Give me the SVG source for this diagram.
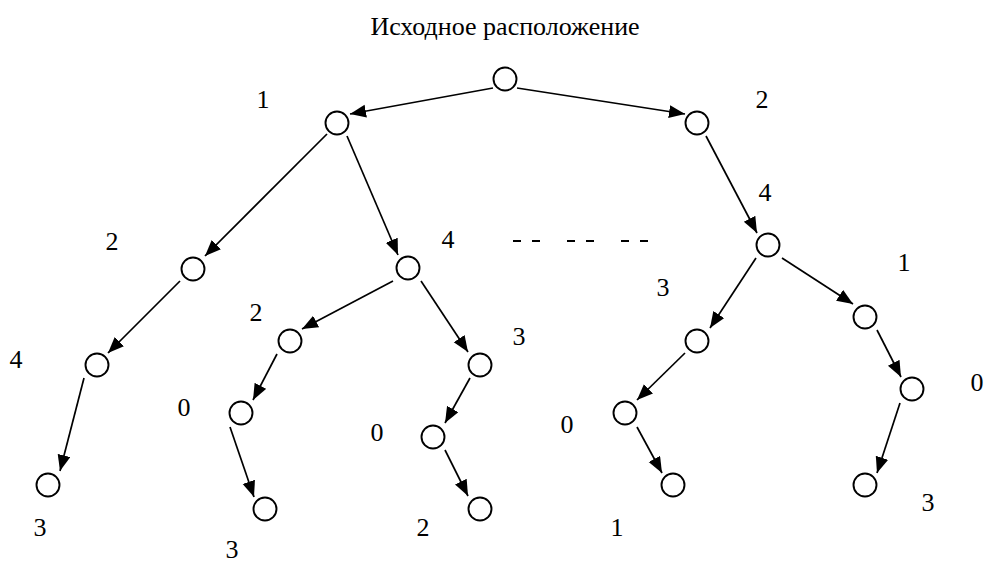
<svg xmlns="http://www.w3.org/2000/svg" width="985" height="563" viewBox="0 0 985 563">
<style>
.n{fill:#fff;stroke:#000;stroke-width:1.9}
.e{stroke:#000;stroke-width:1.7;fill:none}
text{font-family:'Liberation Serif','DejaVu Serif','Times New Roman',serif;font-size:26px;fill:#000;text-anchor:middle}
.d{stroke:#000;stroke-width:2}
</style>
<defs>
<marker id="ah" markerUnits="userSpaceOnUse" markerWidth="18" markerHeight="14" refX="16" refY="6.5" orient="auto">
<path d="M0,0 L16,6.5 L0,13 z" fill="#000"/>
</marker>
</defs>
<text x="505" y="35">Исходное расположение</text>
<g id="connectors">
<line class="e" x1="493" y1="88" x2="350" y2="114" marker-end="url(#ah)"/>
<line class="e" x1="517" y1="88" x2="685" y2="114" marker-end="url(#ah)"/>
<line class="e" x1="327" y1="134" x2="205" y2="256" marker-end="url(#ah)"/>
<line class="e" x1="347" y1="136" x2="398" y2="255" marker-end="url(#ah)"/>
<line class="e" x1="706" y1="136" x2="757" y2="233" marker-end="url(#ah)"/>
<line class="e" x1="180" y1="281" x2="108" y2="353" marker-end="url(#ah)"/>
<line class="e" x1="84" y1="378" x2="60" y2="471" marker-end="url(#ah)"/>
<line class="e" x1="393" y1="281" x2="302" y2="329" marker-end="url(#ah)"/>
<line class="e" x1="421" y1="281" x2="468" y2="352" marker-end="url(#ah)"/>
<line class="e" x1="277" y1="354" x2="253" y2="400" marker-end="url(#ah)"/>
<line class="e" x1="230" y1="427" x2="254" y2="497" marker-end="url(#ah)"/>
<line class="e" x1="470" y1="378" x2="445" y2="423" marker-end="url(#ah)"/>
<line class="e" x1="445" y1="450" x2="468" y2="496" marker-end="url(#ah)"/>
<line class="e" x1="756" y1="258" x2="710" y2="328" marker-end="url(#ah)"/>
<line class="e" x1="782" y1="258" x2="853" y2="304" marker-end="url(#ah)"/>
<line class="e" x1="685" y1="353" x2="637" y2="400" marker-end="url(#ah)"/>
<line class="e" x1="637" y1="427" x2="662" y2="473" marker-end="url(#ah)"/>
<line class="e" x1="877" y1="330" x2="901" y2="377" marker-end="url(#ah)"/>
<line class="e" x1="900" y1="403" x2="877" y2="473" marker-end="url(#ah)"/>
</g>
<g id="dashes">
<line class="d" x1="513" y1="241" x2="521" y2="241"/>
<line class="d" x1="532" y1="241" x2="540" y2="241"/>
<line class="d" x1="567" y1="241" x2="575" y2="241"/>
<line class="d" x1="586" y1="241" x2="594" y2="241"/>
<line class="d" x1="621" y1="241" x2="629" y2="241"/>
<line class="d" x1="640" y1="241" x2="648" y2="241"/>
</g>
<g id="root"><circle class="n" cx="505" cy="79" r="11.5"/></g>
<g id="l1"><circle class="n" cx="337" cy="123" r="11.5"/><text x="263" y="108">1</text></g>
<g id="r2"><circle class="n" cx="697" cy="123" r="11.5"/><text x="762" y="108">2</text></g>
<g id="l1_2"><circle class="n" cx="193" cy="269" r="11.5"/><text x="112" y="250">2</text></g>
<g id="l1_4"><circle class="n" cx="408" cy="268" r="11.5"/><text x="448" y="248">4</text></g>
<g id="r2_4"><circle class="n" cx="768" cy="245" r="11.5"/><text x="765" y="201">4</text></g>
<g id="l1_2_4"><circle class="n" cx="97" cy="365" r="11.5"/><text x="16" y="368">4</text></g>
<g id="l1_2_4_3"><circle class="n" cx="48" cy="485" r="11.5"/><text x="40" y="536">3</text></g>
<g id="l1_4_2"><circle class="n" cx="290" cy="341" r="11.5"/><text x="256" y="321">2</text></g>
<g id="l1_4_2_0"><circle class="n" cx="241" cy="413" r="11.5"/><text x="184" y="416">0</text></g>
<g id="l1_4_2_0_3"><circle class="n" cx="265" cy="509" r="11.5"/><text x="232" y="558">3</text></g>
<g id="l1_4_3"><circle class="n" cx="480" cy="365" r="11.5"/><text x="519" y="345">3</text></g>
<g id="l1_4_3_0"><circle class="n" cx="433" cy="437" r="11.5"/><text x="377" y="441">0</text></g>
<g id="l1_4_3_0_2"><circle class="n" cx="480" cy="509" r="11.5"/><text x="423" y="536">2</text></g>
<g id="r2_4_3"><circle class="n" cx="697" cy="341" r="11.5"/><text x="663" y="296">3</text></g>
<g id="r2_4_3_0"><circle class="n" cx="625" cy="413" r="11.5"/><text x="567" y="433">0</text></g>
<g id="r2_4_3_0_1"><circle class="n" cx="673" cy="485" r="11.5"/><text x="617" y="536">1</text></g>
<g id="r2_4_1"><circle class="n" cx="865" cy="317" r="11.5"/><text x="904" y="271">1</text></g>
<g id="r2_4_1_0"><circle class="n" cx="912" cy="389" r="11.5"/><text x="977" y="391">0</text></g>
<g id="r2_4_1_0_3"><circle class="n" cx="865" cy="485" r="11.5"/><text x="928" y="511">3</text></g>
</svg>
